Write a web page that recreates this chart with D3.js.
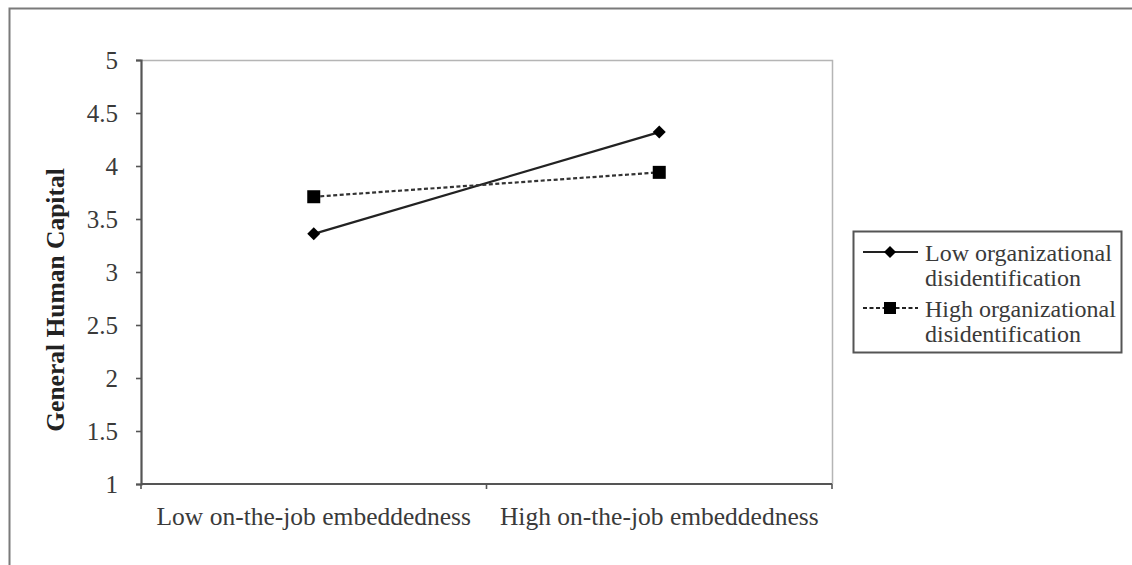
<!DOCTYPE html>
<html>
<head>
<meta charset="utf-8">
<script src="https://cdn.jsdelivr.net/npm/d3@7"></script>
<style>
  html, body { margin: 0; padding: 0; background: #fff; }
  svg { display: block; }
  text { font-family: "Liberation Serif", "Times New Roman", serif; }
</style>
</head>
<body>
<svg id="chart" width="1132" height="565"></svg>
<script>
// ---- data ----
const categories = ["Low on-the-job embeddedness", "High on-the-job embeddedness"];
const seriesNames = ["Low organizational disidentification", "High organizational disidentification"];
const lowDisidentification = [3.36, 4.32];
const highDisidentification = [3.71, 3.94];
const yTicks = [1, 1.5, 2, 2.5, 3, 3.5, 4, 4.5, 5];
const yTitle = "General Human Capital";

const svg = d3.select("#chart");
const W = 1132, H = 565;
const plot = { left: 141, top: 60, right: 832, bottom: 484 };

// outer frame
svg.append("path")
  .attr("d", `M9.5,${H} L9.5,8.5 L${W},8.5`)
  .attr("fill", "none").attr("stroke", "#7a7a7a").attr("stroke-width", 2);

const x = d3.scaleBand().domain(categories).range([plot.left, plot.right]).padding(0);
const y = d3.scaleLinear().domain([1, 5]).range([plot.bottom, plot.top]);

// plot area light border top/right
svg.append("path")
  .attr("d", `M${plot.left},${plot.top + 0.5} L${plot.right + 0.5},${plot.top + 0.5} L${plot.right + 0.5},${plot.bottom}`)
  .attr("fill", "none").attr("stroke", "#b5b5b5").attr("stroke-width", 1.5);

// y axis
const yAxis = d3.axisLeft(y).tickValues(yTicks).tickSize(5).tickPadding(18)
  .tickFormat(d => String(d));
const gy = svg.append("g").attr("transform", `translate(${plot.left},0)`).call(yAxis);
gy.select(".domain").attr("stroke", "#555").attr("stroke-width", 2.2);
gy.selectAll(".tick line").attr("stroke", "#555").attr("stroke-width", 1.6);
gy.selectAll(".tick text").attr("fill", "#3a3a3a").style("font-size", "25px")
  .style("font-family", "'Liberation Serif', serif");

// x axis with boundary ticks
const gx = svg.append("g").attr("transform", `translate(0,${plot.bottom})`);
gx.append("line").attr("x1", plot.left).attr("x2", plot.right)
  .attr("stroke", "#555").attr("stroke-width", 2.2);
const boundaries = [plot.left, ...categories.map(c => x(c) + x.bandwidth())];
gx.selectAll("line.b").data(boundaries).enter().append("line").attr("class", "b")
  .attr("x1", d => d).attr("x2", d => d).attr("y1", 0).attr("y2", 5)
  .attr("stroke", "#555").attr("stroke-width", 1.6);
gx.selectAll("text").data(categories).enter().append("text")
  .attr("x", d => x(d) + x.bandwidth() / 2).attr("y", 41)
  .attr("text-anchor", "middle").attr("fill", "#3a3a3a").style("font-size", "25.5px")
  .text(d => d);

// y title
svg.append("text")
  .attr("transform", `translate(64,${300}) rotate(-90)`)
  .attr("text-anchor", "middle").attr("fill", "#222")
  .style("font-size", "25.5px").style("font-weight", "bold")
  .text(yTitle);

// lines
const line = d3.line().x((d, i) => x(categories[i]) + x.bandwidth() / 2).y(d => y(d));
svg.append("path").datum(lowDisidentification).attr("d", line)
  .attr("fill", "none").attr("stroke", "#222").attr("stroke-width", 2.2);
svg.append("path").datum(highDisidentification).attr("d", line)
  .attr("fill", "none").attr("stroke", "#333").attr("stroke-width", 2.2)
  .attr("stroke-dasharray", "4,2.5");

const diamond = d3.symbol().type(d3.symbolSquare).size(85);
svg.selectAll("path.dm").data(lowDisidentification).enter().append("path").attr("class", "dm")
  .attr("d", diamond)
  .attr("transform", (d, i) => `translate(${x(categories[i]) + x.bandwidth() / 2},${y(d)}) rotate(45)`)
  .attr("fill", "#000");
svg.selectAll("rect.sq").data(highDisidentification).enter().append("rect").attr("class", "sq")
  .attr("x", (d, i) => x(categories[i]) + x.bandwidth() / 2 - 6.5)
  .attr("y", d => y(d) - 6.5).attr("width", 13).attr("height", 13)
  .attr("fill", "#000");

// legend
const lg = svg.append("g");
lg.append("rect").attr("x", 853.5).attr("y", 231.5).attr("width", 268).attr("height", 121)
  .attr("fill", "#fff").attr("stroke", "#555").attr("stroke-width", 2);
const rows = [
  { name: seriesNames[0], lines: ["Low organizational", "disidentification"], y: 252, dash: null, marker: "diamond" },
  { name: seriesNames[1], lines: ["High organizational", "disidentification"], y: 308, dash: "4,2.5", marker: "square" }
];
rows.forEach(r => {
  lg.append("line").attr("x1", 863).attr("x2", 918).attr("y1", r.y).attr("y2", r.y)
    .attr("stroke", "#222").attr("stroke-width", 2)
    .attr("stroke-dasharray", r.dash);
  if (r.marker === "diamond") {
    lg.append("path").attr("d", d3.symbol().type(d3.symbolSquare).size(72)).attr("transform", `translate(890,${r.y}) rotate(45)`).attr("fill", "#000");
  } else {
    lg.append("rect").attr("x", 884).attr("y", r.y - 6).attr("width", 12).attr("height", 12).attr("fill", "#000");
  }
  const t = lg.append("text").attr("x", 925).attr("y", r.y + 9).attr("fill", "#3a3a3a").style("font-size", "24px");
  r.lines.forEach((s, i) => t.append("tspan").attr("x", 925).attr("dy", i === 0 ? 0 : 25).text(s));
});
</script>
</body>
</html>
